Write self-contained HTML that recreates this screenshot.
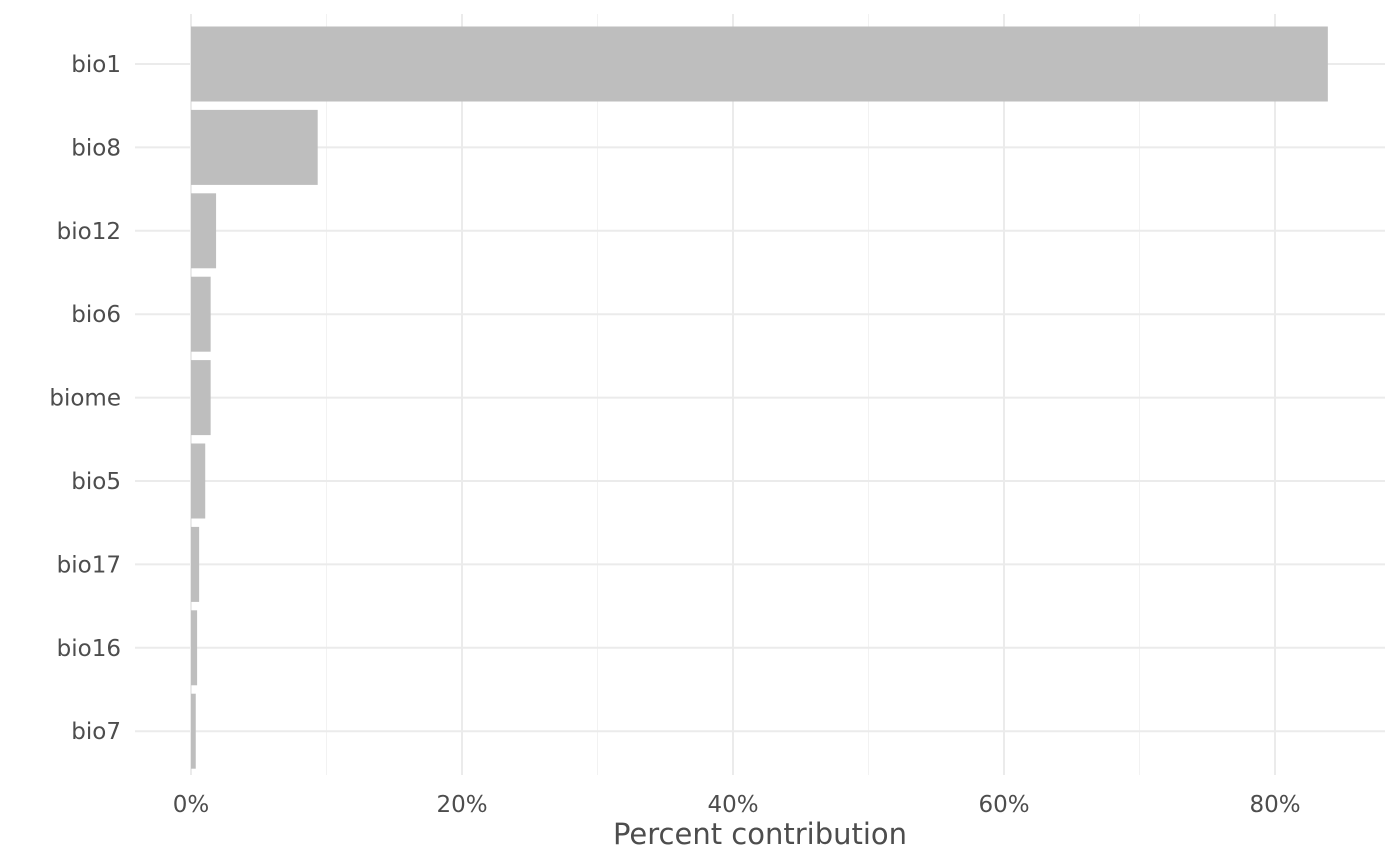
<!DOCTYPE html>
<html><head><meta charset="utf-8"><style>
html,body{margin:0;padding:0;background:#fff;}
svg{display:block;font-family:"DejaVu Sans","Liberation Sans",sans-serif;}
</style></head><body>
<svg id="chart" width="1400" height="865" viewBox="0 0 1400 865"></svg>
<script>
const categories = ["bio1","bio8","bio12","bio6","biome","bio5","bio17","bio16","bio7"];
const values = [83.9, 9.35, 1.85, 1.45, 1.45, 1.05, 0.6, 0.45, 0.35];
const xTicks = [0, 20, 40, 60, 80];
const xTickLabels = ["0%","20%","40%","60%","80%"];
const xMinor = [10, 30, 50, 70];

const svg = document.getElementById('chart');
const NS = 'http://www.w3.org/2000/svg';
const x0 = 191, pxPer = 13.55;
const xScale = v => x0 + v * pxPer;
const yTop = 64, yStep = 83.4, barH = 75;
const yScale = i => yTop + i * yStep;
const panelL = 135, panelR = 1385, panelT = 14, panelB = 775;

function mk(tag, attrs) {
  const e = document.createElementNS(NS, tag);
  for (const k in attrs) e.setAttribute(k, attrs[k]);
  svg.appendChild(e);
  return e;
}
xMinor.forEach(v => {
  const l = mk('line', {x1: xScale(v), x2: xScale(v), y1: panelT, y2: panelB, stroke: '#f2f2f2', 'stroke-width': 1});
  
  
});
xTicks.forEach((v, i) => {
  const l = mk('line', {x1: xScale(v), x2: xScale(v), y1: panelT, y2: panelB, stroke: '#ebebeb', 'stroke-width': 2});
  
  
  const t = mk('text', {x: xScale(v), y: 812, 'text-anchor': 'middle', 'font-size': 23, fill: '#4d4d4d'});
  t.textContent = xTickLabels[i];
  
  
});
categories.forEach((c, i) => {
  const y = yScale(i);
  const l = mk('line', {x1: panelL, x2: panelR, y1: y, y2: y, stroke: '#ebebeb', 'stroke-width': 2});
  
  
});
categories.forEach((c, i) => {
  const y = yScale(i);
  const r = mk('rect', {x: xScale(0), y: y - barH / 2, width: xScale(values[i]) - xScale(0), height: barH, fill: '#bebebe'});
  
  
  const t = mk('text', {x: 121, y: y + 8, 'text-anchor': 'end', 'font-size': 23, fill: '#4d4d4d'});
  t.textContent = c;
  
  
});
const title = mk('text', {x: 760, y: 844, 'text-anchor': 'middle', 'font-size': 29, fill: '#4d4d4d'});
title.textContent = 'Percent contribution';


</script>
</body></html>
